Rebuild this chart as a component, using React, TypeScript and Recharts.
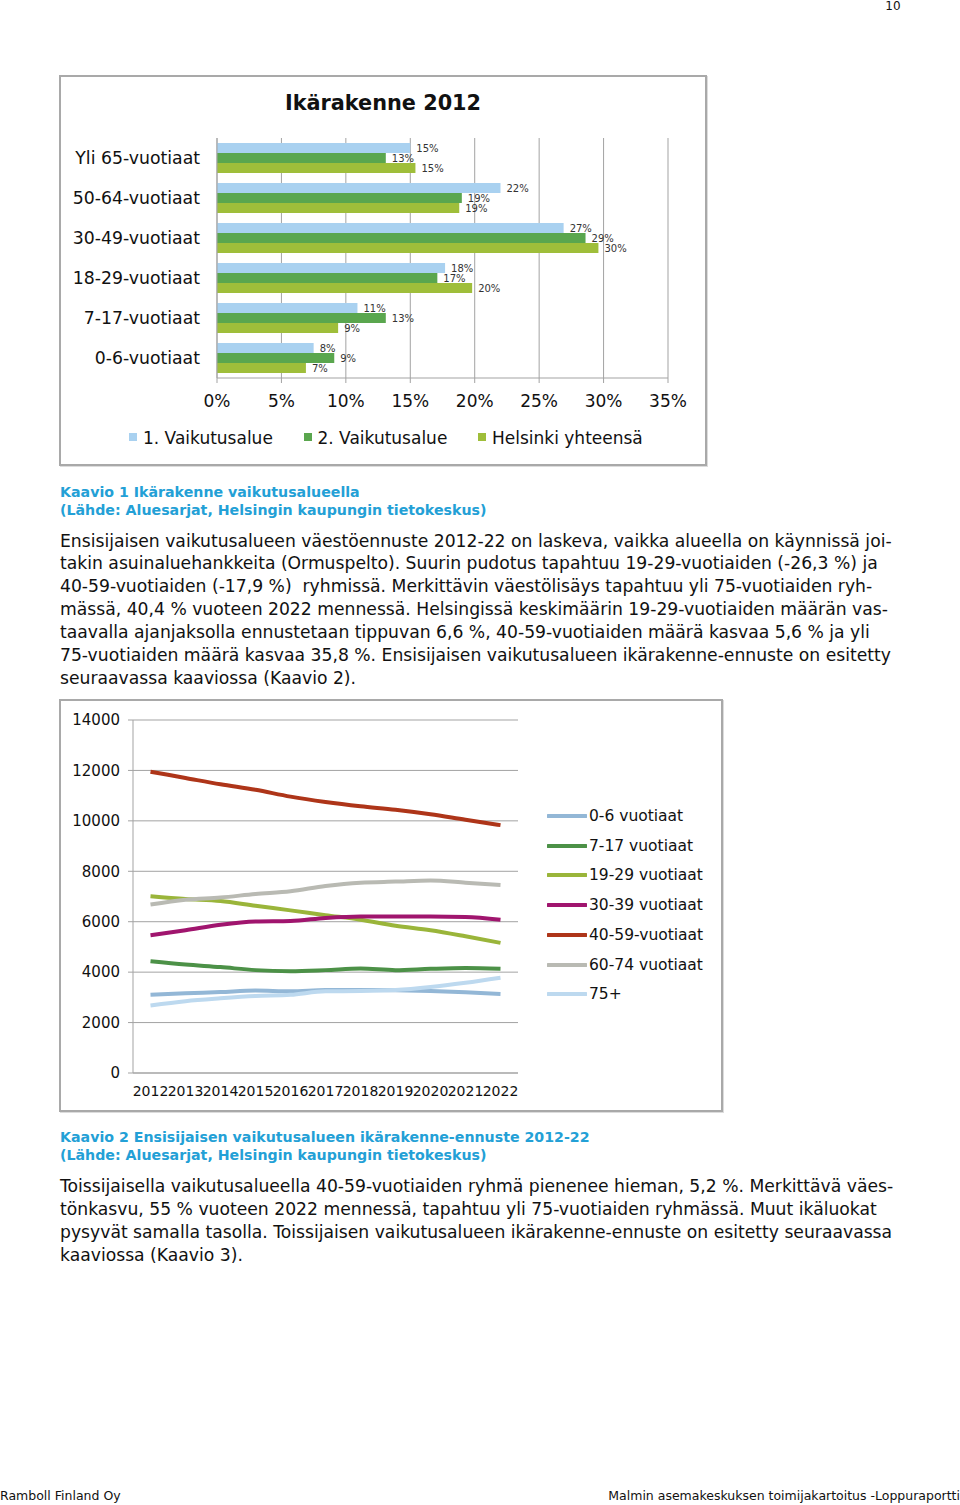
import { BarChart, Bar, XAxis, YAxis, CartesianGrid, LabelList, Legend, LineChart, Line } from 'recharts';

const ageGroups = ['Yli 65-vuotiaat', '50-64-vuotiaat', '30-49-vuotiaat', '18-29-vuotiaat', '7-17-vuotiaat', '0-6-vuotiaat'];
const area1 = [15.0, 22.0, 26.9, 17.7, 10.9, 7.5];
const area2 = [13.1, 19.0, 28.6, 17.1, 13.1, 9.1];
const helsinki = [15.4, 18.8, 29.6, 19.8, 9.4, 6.9];
const pctTicks = [0, 5, 10, 15, 20, 25, 30, 35];

const years = ['2012', '2013', '2014', '2015', '2016', '2017', '2018', '2019', '2020', '2021', '2022'];
const age0to6 = [3100, 3160, 3210, 3270, 3240, 3290, 3290, 3280, 3250, 3200, 3130];
const age7to17 = [4430, 4300, 4200, 4080, 4040, 4080, 4140, 4080, 4130, 4160, 4130];
const age19to29 = [7010, 6900, 6820, 6630, 6450, 6260, 6080, 5840, 5660, 5420, 5160];
const age30to39 = [5460, 5660, 5880, 6010, 6030, 6150, 6210, 6210, 6210, 6190, 6080];
const age40to59 = [11950, 11700, 11450, 11230, 10960, 10750, 10580, 10440, 10260, 10040, 9830];
const age60to74 = [6680, 6870, 6960, 7100, 7210, 7420, 7550, 7590, 7630, 7550, 7460];
const age75plus = [2680, 2850, 2960, 3050, 3100, 3240, 3250, 3290, 3410, 3580, 3780];
const countTicks = [0, 2000, 4000, 6000, 8000, 10000, 12000, 14000];

const barSeries = [
  { key: 'a1', name: '1. Vaikutusalue', color: '#a9d1f0' },
  { key: 'a2', name: '2. Vaikutusalue', color: '#5aa64e' },
  { key: 'hki', name: 'Helsinki yhteensä', color: '#9fbe3a' },
];

const lineSeries = [
  { key: 'g0', name: '0-6 vuotiaat', color: '#93b7d6' },
  { key: 'g1', name: '7-17 vuotiaat', color: '#4c9147' },
  { key: 'g2', name: '19-29 vuotiaat', color: '#9ab53a' },
  { key: 'g3', name: '30-39 vuotiaat', color: '#a0156e' },
  { key: 'g4', name: '40-59-vuotiaat', color: '#ae3519' },
  { key: 'g5', name: '60-74 vuotiaat', color: '#b9bab3' },
  { key: 'g6', name: '75+', color: '#bdd9ef' },
];

const barData = ageGroups.map((name, i) => ({ name, a1: area1[i], a2: area2[i], hki: helsinki[i] }));
const lineData = years.map((year, i) => ({
  year,
  g0: age0to6[i],
  g1: age7to17[i],
  g2: age19to29[i],
  g3: age30to39[i],
  g4: age40to59[i],
  g5: age60to74[i],
  g6: age75plus[i],
}));

const para1 = [
  'Ensisijaisen vaikutusalueen väestöennuste 2012-22 on laskeva, vaikka alueella on käynnissä joi-',
  'takin asuinaluehankkeita (Ormuspelto). Suurin pudotus tapahtuu 19-29-vuotiaiden (-26,3 %) ja',
  '40-59-vuotiaiden (-17,9 %)  ryhmissä. Merkittävin väestölisäys tapahtuu yli 75-vuotiaiden ryh-',
  'mässä, 40,4 % vuoteen 2022 mennessä. Helsingissä keskimäärin 19-29-vuotiaiden määrän vas-',
  'taavalla ajanjaksolla ennustetaan tippuvan 6,6 %, 40-59-vuotiaiden määrä kasvaa 5,6 % ja yli',
  '75-vuotiaiden määrä kasvaa 35,8 %. Ensisijaisen vaikutusalueen ikärakenne-ennuste on esitetty',
  'seuraavassa kaaviossa (Kaavio 2).',
];

const para2 = [
  'Toissijaisella vaikutusalueella 40-59-vuotiaiden ryhmä pienenee hieman, 5,2 %. Merkittävä väes-',
  'tönkasvu, 55 % vuoteen 2022 mennessä, tapahtuu yli 75-vuotiaiden ryhmässä. Muut ikäluokat',
  'pysyvät samalla tasolla. Toissijaisen vaikutusalueen ikärakenne-ennuste on esitetty seuraavassa',
  'kaaviossa (Kaavio 3).',
];

const font = "'DejaVu Sans', Verdana, sans-serif";
const captionColor = '#23a0d6';
const gridColor = '#a3a3a3';

const BarLegend = () => (
  <div style={{ position: 'relative', height: 0, fontFamily: font, fontSize: 17, color: '#111' }}>
    {barSeries.map((s, i) => (
      <div key={s.key} style={{ position: 'absolute', left: 69 + i * 174.5, top: 0, whiteSpace: 'nowrap', lineHeight: '20px' }}>
        <span style={{ display: 'inline-block', width: 8, height: 8, background: s.color, marginRight: 6, verticalAlign: 'middle', position: 'relative', top: -2 }} />
        {s.name}
      </div>
    ))}
  </div>
);

const LineLegend = () => (
  <div style={{ position: 'relative', height: 0, fontFamily: font, fontSize: 15.5, color: '#111' }}>
    {lineSeries.map((s, i) => (
      <div key={s.key} style={{ position: 'absolute', left: 0, top: i * 29.7, whiteSpace: 'nowrap', height: 20, lineHeight: '20px' }}>
        <svg width={40} height={20} style={{ verticalAlign: 'top' }}>
          <line x1={1} y1={10} x2={39} y2={10} stroke={s.color} strokeWidth={4} strokeLinecap="round" />
        </svg>
        <span style={{ marginLeft: 2 }}>{s.name}</span>
      </div>
    ))}
  </div>
);

const boxStyle = {
  position: 'absolute' as const,
  boxSizing: 'border-box' as const,
  border: '2px solid #a9a9a9',
  boxShadow: '1px 1px 0 #dcdcdc',
  background: '#fff',
};

export default function App() {
  return (
    <div style={{ position: 'absolute', left: 0, top: 0, width: 960, height: 1505, background: '#fff', fontFamily: font, color: '#111', overflow: 'hidden' }}>
      <div style={{ position: 'absolute', left: 880, top: 0, width: 26, textAlign: 'center', fontSize: 12, lineHeight: '12px' }}>10</div>

      {/* Kaavio 1 */}
      <div style={{ ...boxStyle, left: 59, top: 75, width: 648, height: 391 }} />
      <div style={{ position: 'absolute', left: 60, top: 90, width: 646, textAlign: 'center', fontSize: 20.8, fontWeight: 'bold', lineHeight: '26px' }}>
        Ikärakenne 2012
      </div>
      <div style={{ position: 'absolute', left: 60, top: 76 }}>
        <BarChart
          width={646}
          height={389}
          data={barData}
          layout="vertical"
          margin={{ top: 62, right: 38, left: 7, bottom: 57 }}
          barCategoryGap="12.5%"
          barGap={0}
        >
          <CartesianGrid horizontal={false} stroke={gridColor} />
          <XAxis
            type="number"
            domain={[0, 35]}
            ticks={pctTicks}
            tickFormatter={(v) => `${v}%`}
            height={30}
            stroke={gridColor}
            tickSize={5}
            tickMargin={12}
            tick={{ fill: '#111', fontSize: 17, fontFamily: font }}
            interval={0}
          />
          <YAxis
            type="category"
            dataKey="name"
            width={150}
            stroke={gridColor}
            tickLine={false}
            tickMargin={11}
            tick={{ fill: '#111', fontSize: 17.3, fontFamily: font }}
            interval={0}
          />
          {barSeries.map((s) => (
            <Bar key={s.key} dataKey={s.key} name={s.name} fill={s.color} isAnimationActive={false}>
              <LabelList
                dataKey={s.key}
                position="right"
                offset={6}
                formatter={(v: any) => `${Math.round(Number(v))}%`}
                style={{ fontSize: 10, fill: '#333', fontFamily: font }}
              />
            </Bar>
          ))}
          <Legend content={<BarLegend />} wrapperStyle={{ position: 'absolute', left: 0, top: 352, width: 646 }} />
        </BarChart>
      </div>

      <div style={{ position: 'absolute', left: 60, top: 483, fontSize: 14.2, fontWeight: 'bold', color: captionColor, lineHeight: '18px', whiteSpace: 'nowrap' }}>
        <div>Kaavio 1 Ikärakenne vaikutusalueella</div>
        <div>(Lähde: Aluesarjat, Helsingin kaupungin tietokeskus)</div>
      </div>

      <div style={{ position: 'absolute', left: 60, top: 529.6, fontSize: 17.2, lineHeight: '22.83px', whiteSpace: 'pre' }}>
        {para1.map((l, i) => (
          <div key={i}>{l}</div>
        ))}
      </div>

      {/* Kaavio 2 */}
      <div style={{ ...boxStyle, left: 59, top: 699, width: 664, height: 413 }} />
      <div style={{ position: 'absolute', left: 60, top: 700 }}>
        <LineChart width={662} height={411} data={lineData} margin={{ top: 20, right: 204, left: 0, bottom: 8 }}>
          <CartesianGrid vertical={false} stroke={gridColor} />
          <XAxis
            dataKey="year"
            scale="band"
            height={30}
            stroke={gridColor}
            tickLine={false}
            tickSize={5}
            tickMargin={8}
            interval={0}
            tick={{ fill: '#111', fontSize: 14, fontFamily: font }}
          />
          <YAxis
            domain={[0, 14000]}
            ticks={countTicks}
            width={73}
            stroke={gridColor}
            tickSize={5}
            tickMargin={8}
            interval={0}
            tick={{ fill: '#111', fontSize: 15, fontFamily: font }}
          />
          {lineSeries.map((s) => (
            <Line
              key={s.key}
              type="monotone"
              dataKey={s.key}
              name={s.name}
              stroke={s.color}
              strokeWidth={4}
              dot={false}
              isAnimationActive={false}
            />
          ))}
          <Legend content={<LineLegend />} wrapperStyle={{ position: 'absolute', left: 487, top: 106, width: 170 }} />
        </LineChart>
      </div>

      <div style={{ position: 'absolute', left: 60, top: 1129, fontSize: 14.2, fontWeight: 'bold', color: captionColor, lineHeight: '17.5px', whiteSpace: 'nowrap' }}>
        <div>Kaavio 2 Ensisijaisen vaikutusalueen ikärakenne-ennuste 2012-22</div>
        <div>(Lähde: Aluesarjat, Helsingin kaupungin tietokeskus)</div>
      </div>

      <div style={{ position: 'absolute', left: 60, top: 1174.5, fontSize: 17.2, lineHeight: '23px', whiteSpace: 'pre' }}>
        {para2.map((l, i) => (
          <div key={i}>{l}</div>
        ))}
      </div>

      <div style={{ position: 'absolute', left: 0, top: 1488, fontSize: 12.5, lineHeight: '16px', whiteSpace: 'nowrap' }}>Ramboll Finland Oy</div>
      <div style={{ position: 'absolute', right: 0, top: 1488, fontSize: 12.5, lineHeight: '16px', whiteSpace: 'nowrap' }}>
        Malmin asemakeskuksen toimijakartoitus -Loppuraportti
      </div>
    </div>
  );
}
